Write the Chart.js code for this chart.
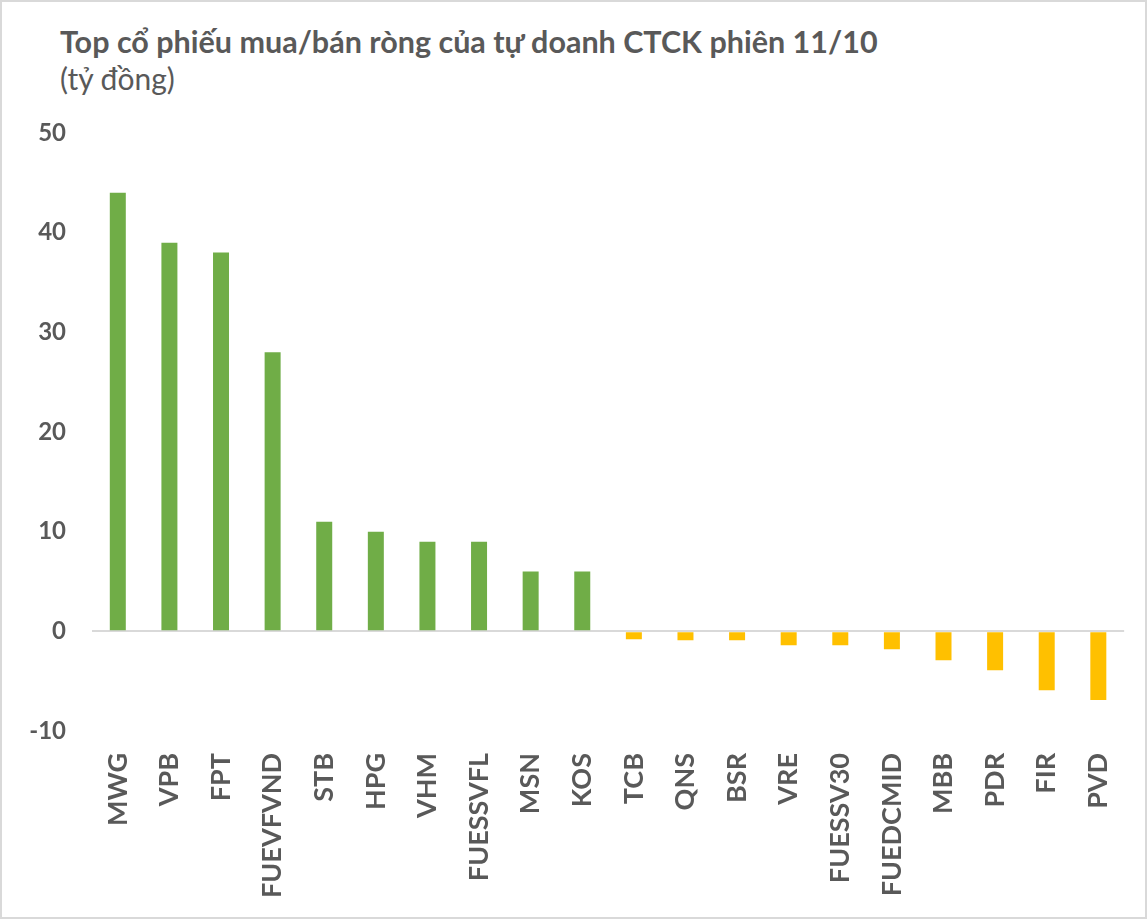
<!DOCTYPE html>
<html>
<head>
<meta charset="utf-8">
<script src="https://cdn.jsdelivr.net/npm/chart.js@4.4.0/dist/chart.umd.min.js"></script>
<style>
    html, body { margin: 0; padding: 0; background: #fff; }
    #wrap {
        position: relative;
        width: 1147px;
        height: 919px;
        box-sizing: border-box;
        border: 2px solid #d9d9d9;
        font-family: Lato, "Open Sans", sans-serif;
        color: #595959;
    }
    #title {
        position: absolute;
        left: 58px;
        top: 21px;
        font-size: 30.5px;
        font-weight: bold;
        white-space: nowrap;
    }
    #subtitle {
        position: absolute;
        left: 58px;
        top: 58px;
        font-size: 30px;
        white-space: nowrap;
    }
    #chartBox { position: absolute; left: 0; top: 0; width: 1143px; height: 915px; }
</style>
</head>
<body>
<div id="wrap">
    <div id="title">Top cổ phiếu mua/bán ròng của tự doanh CTCK phiên 11/10</div>
    <div id="subtitle">(tỷ đồng)</div>
    <div id="chartBox"><canvas id="topChart"></canvas></div>
</div>
<script>
// Dữ liệu (tỷ đồng)
const categories = ['MWG', 'VPB', 'FPT', 'FUEVFVND', 'STB', 'HPG', 'VHM', 'FUESSVFL', 'MSN', 'KOS',
    'TCB', 'QNS', 'BSR', 'VRE', 'FUESSV30', 'FUEDCMID', 'MBB', 'PDR', 'FIR', 'PVD'];
const netValues = [44, 39, 38, 28, 11, 10, 9, 9, 6, 6,
    -0.8, -0.9, -0.9, -1.4, -1.4, -1.8, -2.9, -3.9, -5.9, -6.9];
const yTicks = [-10, 0, 10, 20, 30, 40, 50];

const colorBuy = '#70AD47';
const colorSell = '#FFC000';
const textColor = '#595959';

document.addEventListener('DOMContentLoaded', function () {
    const ctx = document.getElementById('topChart');

    new Chart(ctx, {
        type: 'bar',
        data: {
            labels: categories,
            datasets: [{
                data: netValues,
                backgroundColor: netValues.map(v => v >= 0 ? colorBuy : colorSell),
                borderWidth: 0,
                barPercentage: 0.31,
                categoryPercentage: 1
            }]
        },
        options: {
            responsive: true,
            maintainAspectRatio: false,
            animation: false,
            layout: { padding: { top: 131, left: 0, right: 11, bottom: 0 } },
            plugins: {
                legend: { display: false },
                tooltip: { enabled: false }
            },
            scales: {
                x: {
                    grid: { display: false },
                    border: { display: false },
                    ticks: {
                        color: textColor,
                        font: { family: 'Lato', size: 27, weight: 'bold' },
                        minRotation: 90,
                        maxRotation: 90,
                        autoSkip: false,
                        padding: 14
                    },
                    afterFit: (scale) => { scale.height = 186; }
                },
                y: {
                    min: yTicks[0],
                    max: yTicks[yTicks.length - 1],
                    afterBuildTicks: (scale) => { scale.ticks = yTicks.map(v => ({ value: v })); },
                    grid: {
                        drawTicks: false,
                        lineWidth: 2,
                        color: (c) => c.tick && c.tick.value === 0 ? '#d9d9d9' : 'rgba(0,0,0,0)'
                    },
                    border: { display: false },
                    ticks: {
                        color: textColor,
                        font: { family: 'Lato', size: 24, weight: 'bold' },
                        padding: 26
                    },
                    afterFit: (scale) => { scale.width = 90; }
                }
            }
        }
    });
});
</script>
</body>
</html>
